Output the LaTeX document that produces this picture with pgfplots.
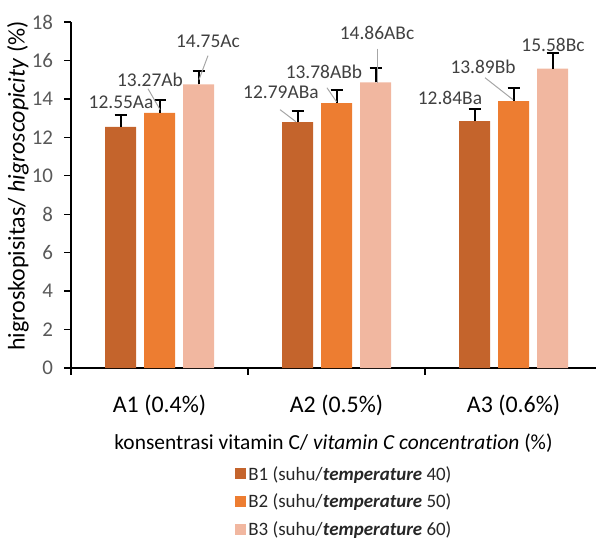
\documentclass[border=0pt]{standalone}
\usepackage{pgfplots}
\pgfplotsset{compat=1.18}
\usepackage{fontspec}
\setmainfont[Ligatures=NoCommon]{Carlito}
\definecolor{bA}{HTML}{C4642C}
\definecolor{bB}{HTML}{ED7D31}
\definecolor{bC}{HTML}{F1B7A0}
\definecolor{lab}{HTML}{404040}
\definecolor{tk}{HTML}{595959}
\begin{document}
\begin{tikzpicture}
\useasboundingbox (0,0) rectangle (596bp,540bp);
\begin{axis}[
  at={(71bp,172bp)}, anchor=south west,
  scale only axis, width=525bp, height=346bp,
  xmin=-0.5, xmax=2.466, ymin=0, ymax=18,
  ybar=8bp, bar width=31bp,
  axis x line*=bottom, axis y line*=left,
  axis line style={black, line width=1.3bp},
  xtick={-0.5,0.5,1.5}, xticklabels={},
  extra x ticks={0,1,2},
  extra x tick labels={A1 (0.4\%),A2 (0.5\%),A3 (0.6\%)},
  extra x tick style={major tick length=0pt, tick label style={font=\fontsize{24}{28}\selectfont, text=black, yshift=-23bp}},
  ytick={0,2,...,18},
  tick align=outside, major tick length=6.5bp,
  tick style={black, line width=1.3bp},
  /pgf/number format/assume math mode=true,
  yticklabel style={font=\fontsize{21}{25}\selectfont, text=tk, xshift=-8bp},
  xlabel={konsentrasi vitamin C/ \textit{vitamin C concentration} (\%)},
  xlabel style={at={(axis description cs:0.5,-0.217)}, anchor=center, font=\fontsize{21.5}{25}\selectfont, text=black},
  ylabel={higroskopisitas/ \textit{higroscopicity} (\%)},
  ylabel style={at={(axis description cs:-0.101,0.526)}, anchor=center, font=\fontsize{24}{28}\selectfont, text=black},
  legend style={at={(axis description cs:0.307,-0.272)}, anchor=north west, draw=none, fill=none,
    font=\fontsize{19}{22}\selectfont, text=black!85, row sep=8.5bp,
    nodes={inner sep=2bp}},
  legend cell align=left,
  error bars/y dir=plus, error bars/y explicit,
  error bars/error bar style={black, line width=2bp},
  error bars/error mark options={rotate=90, mark size=6bp, line width=2bp, black},
  clip=false,
]
\addplot[fill=bA, draw=none, legend image code/.code={\fill[bA] (0bp,-5.5bp) rectangle (11bp,5.5bp);}]
  coordinates {(0,12.55) +- (0,0.63) (1,12.79) +- (0,0.60) (2,12.84) +- (0,0.65)};
\addplot[fill=bB, draw=none, legend image code/.code={\fill[bB] (0bp,-5.5bp) rectangle (11bp,5.5bp);}]
  coordinates {(0,13.27) +- (0,0.69) (1,13.78) +- (0,0.70) (2,13.89) +- (0,0.70)};
\addplot[fill=bC, draw=none, legend image code/.code={\fill[bC] (0bp,-5.5bp) rectangle (11bp,5.5bp);}]
  coordinates {(0,14.75) +- (0,0.72) (1,14.86) +- (0,0.76) (2,15.58) +- (0,0.82)};
\legend{B1 (suhu/\textbf{\textit{temperature}} 40),B2 (suhu/\textbf{\textit{temperature}} 50),B3 (suhu/\textbf{\textit{temperature}} 60)}
% leader lines
\draw[gray!70, line width=1bp] (axis cs:-0.065,14.53) -- (axis cs:0.003,13.44);
\draw[gray!70, line width=1bp] (axis cs:0.274,16.25) -- (axis cs:0.223,15.0);
\draw[gray!70, line width=1bp] (axis cs:0.681,13.44) -- (axis cs:0.771,12.81);
\draw[gray!70, line width=1bp] (axis cs:0.946,14.58) -- (axis cs:1.0,13.85);
\draw[gray!70, line width=1bp] (axis cs:1.229,16.61) -- (axis cs:1.229,14.84);
\draw[gray!70, line width=1bp] (axis cs:1.839,15.10) -- (axis cs:1.997,13.96);
% data labels
\begin{scope}[every node/.style={font=\fontsize{19.5}{22}\selectfont, text=lab, inner sep=0pt}]
\node at (axis cs:-0.217,13.80) {12.55Aa};
\node at (axis cs:-0.054,15.00) {13.27Ab};
\node at (axis cs:0.274,16.98) {14.75Ac};
\node at (axis cs:0.686,14.32) {12.79ABa};
\node at (axis cs:0.929,15.42) {13.78ABb};
\node at (axis cs:1.229,17.45) {14.86ABc};
\node at (axis cs:1.641,14.06) {12.84Ba};
\node at (axis cs:1.828,15.68) {13.89Bb};
\node at (axis cs:2.223,16.82) {15.58Bc};
\end{scope}
\end{axis}
\end{tikzpicture}
\end{document}
